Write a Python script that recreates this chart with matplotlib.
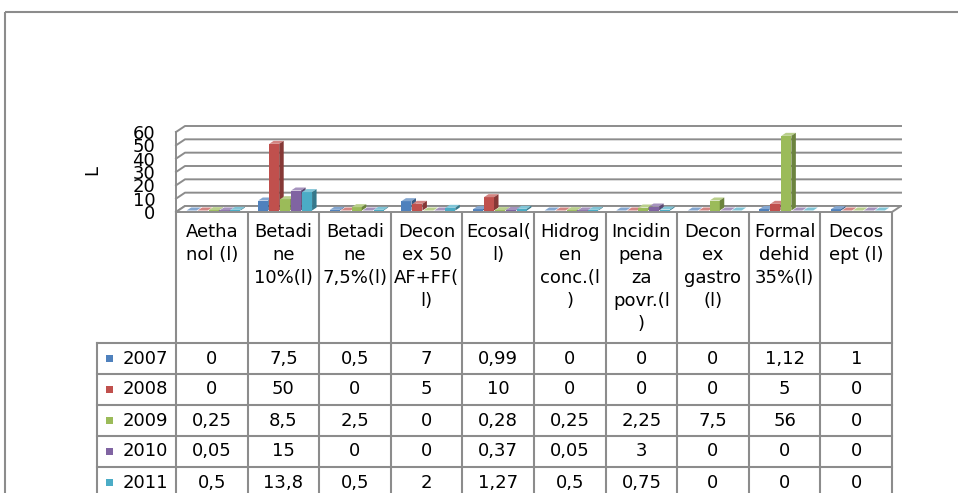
import numpy as np
import matplotlib.pyplot as plt
from matplotlib.patches import Polygon, Rectangle
from matplotlib.colors import to_rgb

categories = ['Aetha\nnol (l)', 'Betadi\nne\n10%(l)', 'Betadi\nne\n7,5%(l)',
              'Decon\nex 50\nAF+FF(\nl)', 'Ecosal(\nl)', 'Hidrog\nen\nconc.(l\n)',
              'Incidin\npena\nza\npovr.(l\n)', 'Decon\nex\ngastro\n(l)',
              'Formal\ndehid\n35%(l)', 'Decos\nept (l)']
years = ['2007', '2008', '2009', '2010', '2011']
v2007 = [0, 7.5, 0.5, 7, 0.99, 0, 0, 0, 1.12, 1]
v2008 = [0, 50, 0, 5, 10, 0, 0, 0, 5, 0]
v2009 = [0.25, 8.5, 2.5, 0, 0.28, 0.25, 2.25, 7.5, 56, 0]
v2010 = [0.05, 15, 0, 0, 0.37, 0.05, 3, 0, 0, 0]
v2011 = [0.5, 13.8, 0.5, 2, 1.27, 0.5, 0.75, 0, 0, 0]
series = [v2007, v2008, v2009, v2010, v2011]
colors = ['#4F81BD', '#C0504D', '#9BBB59', '#8064A2', '#4BACC6']
yticks = [0, 10, 20, 30, 40, 50, 60]

W, H = 958, 493
n = len(categories)
grid_c = '#8c8c8c'

fig = plt.figure(figsize=(W / 100, H / 100), dpi=100)
fig.patch.set_facecolor('white')

# pixel-space overlay for frame and data table
pax = fig.add_axes([0, 0, 1, 1])
pax.set_xlim(0, W)
pax.set_ylim(H, 0)
pax.axis('off')

X0, X1 = 176, 892      # front edge of floor
Y0, Y60 = 212, 132     # front level of 0 and 60
ax = fig.add_axes([X0 / W, 1 - Y0 / H, (X1 - X0) / W, (Y0 - Y60) / H])
ax.set_xlim(0, n)
ax.set_ylim(0, 60)
ax.patch.set_alpha(0)
for s in ax.spines.values():
    s.set_visible(False)
ax.set_xticks([])
ax.set_yticks(yticks)
ax.tick_params(axis='y', length=0, pad=15, labelsize=13)

# depth of the 3d floor in data units
px_x = (X1 - X0) / n
px_y = (Y0 - Y60) / 60
DX, DY = 9 / px_x, 6 / px_y

for t in yticks:
    ax.plot([0, DX, n + DX], [t, t + DY, t + DY], color=grid_c, lw=1.4,
            clip_on=False, zorder=1)
ax.plot([0, 0], [0, 60], color=grid_c, lw=1.4, clip_on=False, zorder=1)
ax.add_patch(Polygon([(0, 0), (n, 0), (n + DX, DY), (DX, DY)], closed=True,
                     fc='white', ec=grid_c, lw=1.4, clip_on=False, zorder=1.5))

# bars
bw, stride, off0 = 0.14, 0.153, 0.117
fx, fy = DX * 0.25, DY * 0.25
bdx, bdy = DX * 0.5, DY * 0.5


def shade(c, f):
    r = np.array(to_rgb(c))
    if f > 1:
        return tuple(r + (1 - r) * (f - 1))
    return tuple(r * f)


for j, vals in enumerate(series):
    xs = np.arange(n) + off0 + j * stride + fx
    z = 3 + j * 0.1
    ax.bar(xs, vals, width=bw, bottom=fy, align='edge', color=colors[j],
           lw=0, zorder=z, clip_on=False)
    for x, v in zip(xs, vals):
        top = fy + v
        ax.add_patch(Polygon([(x, top), (x + bw, top), (x + bw + bdx, top + bdy),
                              (x + bdx, top + bdy)], closed=True,
                             fc=shade(colors[j], 1.3), lw=0, zorder=z, clip_on=False))
        ax.add_patch(Polygon([(x + bw, fy), (x + bw + bdx, fy + bdy),
                              (x + bw + bdx, top + bdy), (x + bw, top)], closed=True,
                             fc=shade(colors[j], 0.7), lw=0, zorder=z, clip_on=False))

# y axis title
pax.text(92, 170, 'L', rotation=90, ha='center', va='center', fontsize=13)

# outer chart frame
pax.add_patch(Rectangle((5, 12), W, H, fill=False, ec=grid_c, lw=1.5))

# data table
edges = np.linspace(X0, X1, n + 1)
centers = (edges[:-1] + edges[1:]) / 2
TOP = 343
RH = 31
LEFT = 97
for e in edges:
    pax.plot([e, e], [Y0, TOP + RH * 5], color=grid_c, lw=1.5)
pax.plot([LEFT, LEFT], [TOP, TOP + RH * 5], color=grid_c, lw=1.5)
for k in range(6):
    pax.plot([LEFT, X1], [TOP + RH * k, TOP + RH * k], color=grid_c, lw=1.5)

for c, lab in zip(centers, categories):
    pax.text(c, 223, lab, ha='center', va='top', fontsize=13, linespacing=1.36)


def fmt(v):
    return '{:g}'.format(v).replace('.', ',')


for k, (yr, vals) in enumerate(zip(years, series)):
    rc = TOP + RH * k + RH / 2
    pax.add_patch(Rectangle((106, rc - 3.5), 7, 7, fc=colors[k], lw=0))
    pax.text(123, rc, yr, ha='left', va='center', fontsize=13)
    for c, v in zip(centers, vals):
        pax.text(c, rc, fmt(v), ha='center', va='center', fontsize=13)

fig.savefig('out.png', dpi=100)
